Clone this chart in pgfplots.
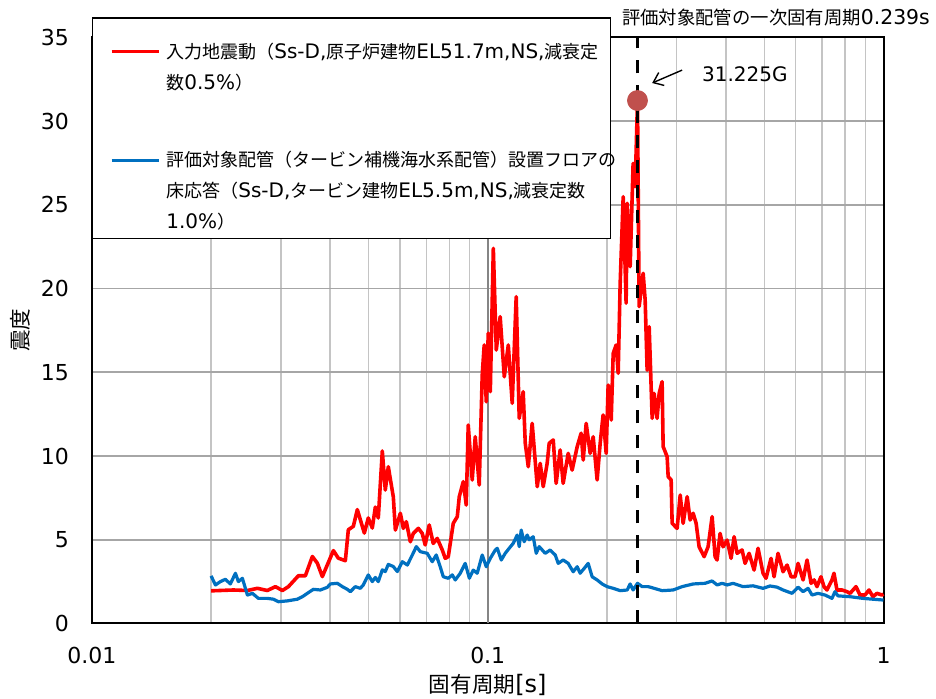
\documentclass[border=0pt]{standalone}
\usepackage{fontspec}
\setmainfont{DejaVu Sans}
\newfontfamily\jp{Noto Sans CJK JP}[Scale=0.9]
\usepackage{pgfplots}
\pgfplotsset{compat=1.18}
\usetikzlibrary{arrows.meta}

\newcommand{\J}[1]{{\jp #1}}
% line struts for the legend text (15.5pt per line)
\newcommand{\ls}{\rule[-4.65pt]{0pt}{15.5pt}}
\newcommand{\lsf}{\rule[-4.65pt]{0pt}{24.5pt}}

\definecolor{inputcol}{HTML}{FF0000}
\definecolor{floorcol}{HTML}{0070C0}
\definecolor{peakcol}{HTML}{C0504D}
\definecolor{hgrid}{HTML}{A6A6A6}
\definecolor{vgrid}{HTML}{C4C4C4}
\definecolor{vgridmajor}{HTML}{858585}

% legend sample lines, level with the first text line of each entry
\pgfplotsset{
  legimg first/.style={legend image code/.code={\draw[##1] (0pt,-16.85pt) -- (23.5pt,-16.85pt);}},
  legimg next/.style={legend image code/.code={\draw[##1] (0pt,-7.85pt) -- (23.5pt,-7.85pt);}},
}

\begin{document}
\begin{tikzpicture}
\path[use as bounding box] (0,0) rectangle (468pt,349.5pt);
\begin{axis}[
  at={(46pt,37.75pt)}, anchor=south west,
  scale only axis, width=395.75pt, height=293.1pt,
  xmode=log, xmin=0.01, xmax=1, ymin=0, ymax=35,
  xtick={0.01,0.1,1}, xticklabels={0.01,0.1,1},
  minor xtick={0.02,0.03,0.04,0.05,0.06,0.07,0.08,0.09,0.2,0.3,0.4,0.5,0.6,0.7,0.8,0.9},
  ytick={0,5,10,15,20,25,30,35},
  xminorgrids, ymajorgrids,
  major grid style={draw=hgrid, line width=0.8pt},
  minor grid style={draw=vgrid, line width=0.8pt},
  extra x ticks={0.1}, extra x tick labels={},
  extra x tick style={grid=major, major grid style={draw=vgridmajor, line width=0.8pt}},
  major tick length=0pt, minor tick length=0pt,
  axis line style={line width=1pt},
  /pgf/number format/assume math mode=true,
  tick label style={font=\fontsize{11}{13}\selectfont},
  yticklabel style={xshift=-8pt},
  xticklabel style={yshift=-8.5pt},
  xlabel={\J{固有周期}[s]},
  ylabel={\J{震度}},
  every axis x label/.style={at={(axis description cs:0.5,0)}, anchor=center, yshift=-30.75pt, font=\fontsize{12}{14}\selectfont},
  every axis y label/.style={at={(axis description cs:-0.091,0.5)}, anchor=center, rotate=90, font=\fontsize{12}{14}\selectfont},
  clip=false,
  legend style={
    at={(0,1.0346)}, anchor=north west,
    draw=black, line width=0.75pt, fill=white,
    inner xsep=8.5pt, inner ysep=0pt,
    row sep=23pt, column sep=3pt,
    font=\fontsize{10}{15.5}\selectfont,
    nodes={inner sep=0pt, text depth=},
    cells={anchor=north west, align=left, text width=213.5pt},
  },
]

% input motion spectrum (damping 0.5%)
\addplot[inputcol, line width=1.8pt, line join=round, legimg first]
table {
T y
0.0200 1.95
0.02276 2.00
0.02470 1.97
0.02618 2.10
0.02774 1.97
0.02907 2.20
0.03028 1.97
0.03136 2.20
0.03323 2.85
0.03461 2.85
0.03605 4.00
0.03711 3.60
0.03820 2.80
0.03933 3.50
0.04073 4.35
0.04193 3.90
0.04367 3.75
0.04444 5.60
0.04575 5.80
0.04682 6.80
0.04877 5.40
0.04991 6.30
0.05109 5.70
0.05199 6.95
0.05290 6.30
0.05415 10.30
0.05510 7.97
0.05607 9.36
0.05774 7.55
0.05842 5.58
0.06014 6.58
0.06120 5.68
0.06227 6.08
0.06374 4.88
0.06486 5.38
0.06679 5.68
0.06831 5.38
0.06951 4.69
0.07115 5.88
0.07282 4.78
0.07454 5.08
0.07677 4.39
0.07811 3.89
0.07949 3.99
0.08183 5.98
0.08376 6.38
0.08474 7.57
0.08674 8.47
0.08824 7.07
0.08927 11.85
0.09137 8.57
0.09298 11.15
0.09517 8.27
0.09684 14.84
0.09797 16.63
0.09913 13.24
0.1003 17.33
0.1015 13.84
0.1033 22.40
0.1051 16.33
0.1075 18.32
0.1101 14.73
0.1127 16.63
0.1153 13.15
0.1180 19.51
0.1201 12.25
0.1229 13.84
0.1244 10.76
0.1266 9.36
0.1295 11.95
0.1334 8.17
0.1357 9.56
0.1381 8.17
0.1413 9.56
0.1430 10.76
0.1464 10.96
0.1489 8.37
0.1524 10.36
0.1551 8.37
0.1597 10.16
0.1634 9.16
0.1683 10.56
0.1722 11.36
0.1743 9.76
0.1773 11.95
0.1815 10.16
0.1847 11.15
0.1890 8.57
0.1924 10.76
0.1957 12.45
0.1992 10.16
0.2015 14.24
0.2051 12.15
0.2075 16.13
0.2111 16.63
0.2136 14.94
0.2161 20.31
0.2199 25.48
0.2237 19.12
0.2251 25.09
0.2290 21.30
0.2330 27.47
0.2358 26.08
0.2390 31.225
0.2413 18.92
0.2470 20.91
0.2499 19.31
0.2528 15.13
0.2558 17.72
0.2603 12.25
0.2633 13.74
0.2679 12.25
0.2711 13.74
0.2758 14.44
0.2775 10.56
0.2840 9.96
0.2857 8.77
0.2907 8.57
0.2924 5.98
0.3010 5.68
0.3064 7.67
0.3117 5.98
0.3191 7.57
0.3247 6.18
0.3304 6.58
0.3362 5.98
0.3421 4.58
0.3522 3.99
0.3604 4.58
0.3690 6.38
0.3754 3.99
0.3798 3.79
0.3865 5.38
0.3933 4.58
0.4026 4.98
0.4120 3.89
0.4193 5.18
0.4267 4.19
0.4392 4.39
0.4470 3.59
0.4575 4.19
0.4710 3.19
0.4820 4.49
0.4962 3.00
0.5049 2.70
0.5199 3.89
0.5290 2.79
0.5415 4.19
0.5575 3.09
0.5707 3.49
0.5842 2.79
0.5979 2.79
0.6084 3.59
0.6264 2.60
0.6411 3.79
0.6562 2.40
0.6679 2.60
0.6791 2.20
0.6951 2.79
0.7074 2.20
0.7198 2.00
0.7411 2.60
0.7498 3.00
0.7629 2.00
0.7857 2.00
0.8089 1.90
0.8231 1.80
0.8523 2.20
0.8722 1.70
0.8980 1.70
0.9191 2.00
0.9407 1.60
0.9628 1.80
0.9913 1.70
1.0000 1.75
};
\addlegendentry{\mbox{\lsf\J{入力地震動（}Ss-D,\J{原子炉建物}EL51.7m,NS,\J{減衰定}}\\\mbox{\ls\J{数}0.5\%\J{）}}}

% floor response at the piping installation floor (damping 1.0%)
\addplot[floorcol, line width=1.6pt, line join=round, legimg next]
table {
T y
0.0200 2.84
0.02051 2.30
0.02111 2.50
0.02173 2.64
0.02237 2.36
0.02304 3.00
0.02344 2.50
0.02399 2.70
0.02470 1.70
0.02543 1.80
0.02633 1.50
0.02774 1.50
0.02874 1.45
0.02958 1.30
0.03117 1.35
0.03304 1.45
0.03401 1.60
0.03501 1.80
0.03626 2.04
0.03776 2.00
0.03933 2.16
0.04000 2.36
0.04168 2.40
0.04292 2.20
0.04418 2.04
0.04496 1.90
0.04628 2.20
0.04764 2.10
0.04848 2.30
0.04991 2.90
0.05109 2.50
0.05199 2.75
0.05290 2.50
0.05415 3.20
0.05510 3.10
0.05607 3.53
0.05774 3.40
0.05910 3.10
0.06084 3.69
0.06264 3.49
0.06448 4.09
0.06600 4.59
0.06755 4.29
0.07033 4.19
0.07240 3.69
0.07411 4.09
0.07585 3.39
0.07722 2.79
0.07949 2.70
0.08136 2.90
0.08279 2.60
0.08523 3.00
0.08772 3.59
0.08986 2.70
0.09191 3.19
0.09407 3.00
0.09684 4.09
0.09913 3.39
0.1015 3.89
0.1045 4.39
0.1057 4.49
0.1082 3.79
0.1107 4.19
0.1133 4.49
0.1160 4.79
0.1187 5.28
0.1201 4.59
0.1215 5.58
0.1236 4.88
0.1258 5.28
0.1273 5.00
0.1303 5.18
0.1326 4.19
0.1349 4.59
0.1397 4.19
0.1438 4.39
0.1481 4.09
0.1507 3.59
0.1551 3.79
0.1597 3.59
0.1644 3.09
0.1683 3.39
0.1712 3.00
0.1753 3.29
0.1794 3.59
0.1836 2.79
0.1890 2.60
0.1946 2.36
0.2003 2.20
0.2075 2.10
0.2161 1.96
0.2251 2.00
0.2290 2.36
0.2330 2.00
0.2390 2.40
0.2456 2.20
0.2543 2.20
0.2573 2.17
0.2758 1.96
0.2941 2.00
0.3099 2.20
0.3304 2.36
0.3542 2.40
0.3690 2.54
0.3798 2.30
0.3910 2.40
0.4026 2.30
0.4168 2.40
0.4418 2.20
0.4682 2.25
0.4962 2.10
0.5169 2.24
0.5383 2.17
0.5575 2.00
0.5876 1.80
0.6084 2.17
0.6264 1.90
0.6448 2.10
0.6600 1.70
0.6831 1.80
0.7115 1.70
0.7411 1.50
0.7541 1.90
0.7673 1.65
0.8231 1.60
0.8875 1.50
0.9407 1.45
1.0000 1.40
};
\addlegendentry{\mbox{\ls\J{評価対象配管（タービン補機海水系配管）設置フロアの}}\\\mbox{\ls\J{床応答（}Ss-D,\J{タービン建物}EL5.5m,NS,\J{減衰定数}}\\\mbox{\ls 1.0\%\J{）}}}

% natural period of the piping
\addplot[black, line width=1.5pt, dash pattern=on 6.5pt off 6pt, forget plot]
  coordinates {(0.239,0) (0.239,35)};
\addplot[only marks, mark=*, mark size=5pt, color=peakcol, forget plot]
  coordinates {(0.239,31.225)};

\draw[line width=0.7pt, -{Straight Barb[length=4.5pt,width=7pt]}]
  (axis cs:0.3098,33.04) -- (axis cs:0.2603,32.27);
\node[anchor=west, font=\fontsize{10}{12}\selectfont] at (axis cs:0.3342,32.8) {31.225G};
\node[anchor=center, font=\fontsize{10.2}{12}\selectfont] at (axis cs:0.535,36.15)
  {\J{評価対象配管の一次固有周期}0.239s};
\end{axis}
\end{tikzpicture}
\end{document}
